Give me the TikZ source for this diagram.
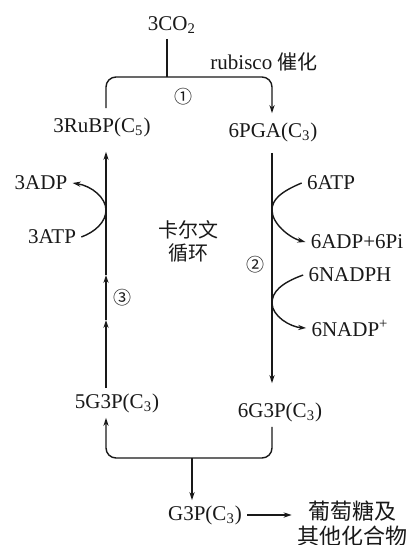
\documentclass[tikz,border=0pt]{standalone}
\usepackage{fontspec}
\setmainfont{Liberation Serif}
\newfontfamily\cjk{Noto Sans CJK SC}
\usetikzlibrary{arrows.meta,positioning,calc}
\definecolor{inkclr}{RGB}{25,25,25}
\definecolor{paperclr}{RGB}{255,255,255}
\tikzset{
  cpd/.style={font=\fontsize{10.5}{12}\selectfont,text=inkclr,inner sep=2.5pt},
  zhlbl/.style={font=\cjk\fontsize{10}{11.5}\selectfont,text=inkclr,
    align=center,inner sep=2.5pt},
  stepno/.style={font=\cjk\fontsize{9}{10}\selectfont,text=inkclr,inner sep=0pt},
  ln/.style={line width=0.7pt,color=inkclr},
  arr/.style={-{Stealth[length=4pt,width=2.6pt]},line width=0.7pt,color=inkclr},
}
\begin{document}
\begin{tikzpicture}[x=0.5pt,y=-0.5pt]
  \fill[paperclr] (0,0) rectangle (413,545);
  \useasboundingbox (0,0) rectangle (413,545);
  % column lines and junctions
  \coordinate (colL) at (106,0);
  \coordinate (colR) at (272,0);
  \coordinate (jtop) at (167,77);
  \coordinate (jbot) at (192,458);
  \coordinate (tL) at (106,210);
  \coordinate (tR1) at (272,210);
  \coordinate (tR2) at (272,303);
  \coordinate (upA) at (106,320);
  \coordinate (upB) at (106,275);
  % compounds
  \node[cpd] (co2) at (172,25) {3CO\textsubscript{2}};
  \node[cpd] (rubp) at (102,127) {3RuBP(C\textsubscript{5})};
  \node[cpd] (pga) at (273,132) {6PGA(C\textsubscript{3})};
  \node[cpd] (g5) at (117,403) {5G3P(C\textsubscript{3})};
  \node[cpd] (g6) at (280,412) {6G3P(C\textsubscript{3})};
  \node[cpd] (g3p) at (205,515) {G3P(C\textsubscript{3})};
  \node[zhlbl,font=\cjk\fontsize{11}{12.5}\selectfont] (glu) at (352,524) {葡萄糖及\\其他化合物};
  % enzyme, cycle name, step numbers
  \node[cpd] (rub) at (264,62) {rubisco {\cjk\fontsize{10}{11.5}\selectfont 催化}};
  \node[zhlbl] (calvin) at (188,241) {卡尔文\\循环};
  \node[stepno] (s1) at (183,97) {①};
  \node[stepno] (s2) at (255,265) {②};
  \node[stepno] (s3) at (122,298) {③};
  % energy carriers
  \node[cpd] (adp3) at (41,183) {3ADP};
  \node[cpd] (atp3) at (52,237) {3ATP};
  \node[cpd] (atp6) at (331,183) {6ATP};
  \node[cpd] (pi6) at (357,242) {6ADP+6Pi};
  \node[cpd] (nadph) at (350,275) {6NADPH};
  \node[cpd] (nadp) at (350,328) {6NADP\textsuperscript{+}};
  % fixation
  \draw[ln] (co2.south -| jtop) -- (jtop);
  \draw[arr,rounded corners=5pt,shorten <=2pt,shorten >=2pt]
    (rubp.north -| colL) -- (colL |- jtop) -- (colR |- jtop) -- (pga.north -| colR);
  % reduction
  \draw[arr,shorten <=3pt,shorten >=7pt] (pga.south -| colR) -- (g6.north -| colR);
  \draw[arr] (atp6.west) .. controls (280,192) and (272,200) .. (tR1)
    .. controls (272,224) and (290,238) .. (pi6.west);
  \draw[arr] (nadph.west) .. controls (281,283) and (272,292) .. (tR2)
    .. controls (272,316) and (290,327) .. (nadp.west);
  % regeneration
  \draw[arr,rounded corners=5pt] (g6.south -| colR) -- (colR |- jbot)
    -- (colL |- jbot) -- (g5.south -| colL);
  \draw[arr] (g5.north -| colL) -- (upA);
  \draw[arr] (upA) -- (upB);
  \draw[arr,shorten >=5pt] (upB) -- (rubp.south -| colL);
  \draw[arr] (atp3.east) .. controls (95,232) and (106,222) .. (tL)
    .. controls (106,198) and (92,186) .. (adp3.east);
  % output
  \draw[arr] (jbot) -- (g3p.north -| jbot);
  \draw[arr] (g3p.east) -- (g3p.east -| glu.west);
\end{tikzpicture}
\end{document}
